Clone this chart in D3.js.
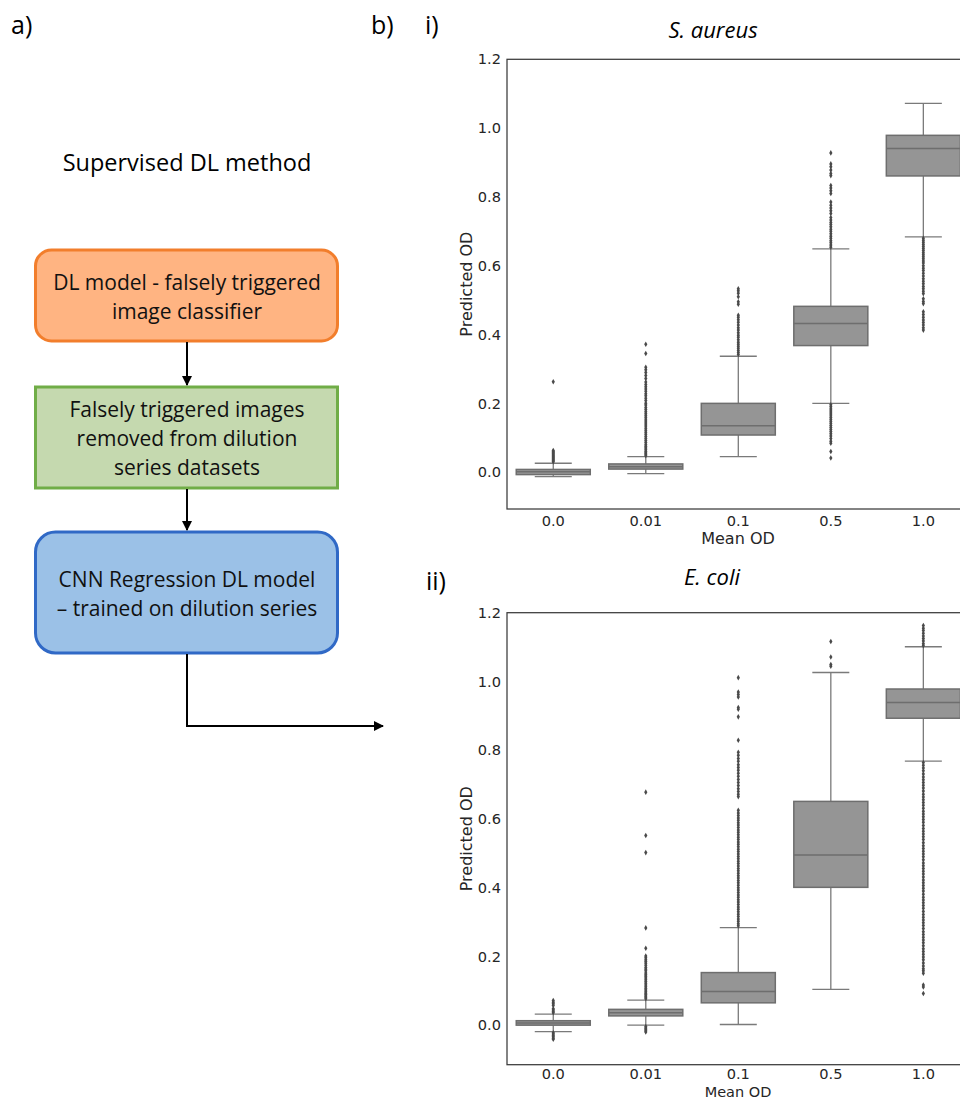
<!DOCTYPE html>
<html>
<head>
<meta charset="utf-8">
<script src="https://cdn.jsdelivr.net/npm/d3@7"></script>
<style>
  body { margin: 0; background: #fff; }
  svg { display: block; }
</style>
</head>
<body>
<svg id="fig" width="960" height="1100"></svg>
<script>
// categories on the x axis (mean OD of the dilution series)
var categories = ['0.0', '0.01', '0.1', '0.5', '1.0'];
var yTicks = [0.0, 0.2, 0.4, 0.6, 0.8, 1.0, 1.2];

// S. aureus box stats: [lower whisker, q1, median, q3, upper whisker]
var aureusStats = [
  [-0.013, -0.007, 0.001, 0.008, 0.026],
  [-0.004, 0.009, 0.016, 0.024, 0.045],
  [0.045, 0.108, 0.135, 0.200, 0.337],
  [0.200, 0.368, 0.432, 0.482, 0.649],
  [0.684, 0.861, 0.941, 0.979, 1.072]
];
var aureusOutliers = [
  [0.263, 0.063, 0.060, 0.057, 0.054, 0.051, 0.048, 0.045, 0.042, 0.039, 0.036, 0.033, 0.030],
  [0.372, 0.345, 0.305, 0.298, 0.290, 0.281, 0.272, 0.262, 0.255, 0.248, 0.242, 0.235, 0.228, 0.222,
   0.215, 0.208, 0.200, 0.195, 0.188, 0.182, 0.176, 0.170, 0.164, 0.158, 0.152, 0.146, 0.140, 0.134,
   0.128, 0.122, 0.116, 0.110, 0.104, 0.098, 0.092, 0.086, 0.080, 0.075, 0.070, 0.065, 0.060, 0.056,
   0.052, 0.048],
  [0.533, 0.527, 0.520, 0.510, 0.495, 0.488, 0.456, 0.450, 0.443, 0.436, 0.428, 0.420, 0.413, 0.405,
   0.398, 0.392, 0.385, 0.378, 0.372, 0.366, 0.360, 0.354, 0.348, 0.342],
  [0.928, 0.896, 0.888, 0.878, 0.868, 0.862, 0.833, 0.826, 0.818, 0.810, 0.785, 0.776, 0.768, 0.760,
   0.752, 0.740, 0.733, 0.726, 0.720, 0.713, 0.706, 0.700, 0.693, 0.686, 0.680, 0.673, 0.667, 0.660,
   0.654, 0.196, 0.190, 0.184, 0.178, 0.172, 0.166, 0.160, 0.154, 0.148, 0.142, 0.136, 0.130, 0.124,
   0.118, 0.112, 0.105, 0.098, 0.090, 0.084, 0.060, 0.041],
  [0.680, 0.674, 0.668, 0.662, 0.656, 0.650, 0.644, 0.638, 0.632, 0.626, 0.620, 0.614, 0.608, 0.600,
   0.593, 0.586, 0.578, 0.570, 0.562, 0.555, 0.548, 0.540, 0.533, 0.526, 0.519, 0.504, 0.496, 0.490,
   0.466, 0.458, 0.450, 0.442, 0.435, 0.428, 0.420, 0.413]
];

// E. coli box stats
var coliStats = [
  [-0.019, 0.000, 0.006, 0.013, 0.032],
  [0.000, 0.027, 0.036, 0.046, 0.073],
  [0.002, 0.065, 0.098, 0.153, 0.284],
  [0.104, 0.401, 0.495, 0.651, 1.026],
  [0.768, 0.893, 0.939, 0.978, 1.101]
];
var coliOutliers = [
  [0.072, 0.067, 0.062, 0.057, 0.048, 0.044, 0.040, 0.036, -0.022, -0.026, -0.030, -0.034, -0.038, -0.041],
  [0.678, 0.552, 0.502, 0.283, 0.224, 0.201, 0.196, 0.190, 0.185, 0.180, 0.174, 0.168, 0.163, 0.158,
   0.152, 0.147, 0.142, 0.137, 0.132, 0.127, 0.122, 0.117, 0.112, 0.107, 0.102, 0.097, 0.093, 0.089,
   0.085, 0.081, 0.077, -0.004, -0.008, -0.012, -0.016, -0.020],
  [1.011, 0.969, 0.962, 0.955, 0.924, 0.919, 0.897, 0.829, 0.794, 0.785, 0.776, 0.768, 0.758, 0.750,
   0.742, 0.733, 0.724, 0.715, 0.706, 0.697, 0.688, 0.680, 0.672, 0.665, 0.625, 0.617, 0.610, 0.603,
   0.596, 0.589, 0.582, 0.575, 0.568, 0.561, 0.554, 0.547, 0.540, 0.533, 0.526, 0.519, 0.512, 0.505,
   0.498, 0.491, 0.484, 0.477, 0.470, 0.463, 0.456, 0.449, 0.442, 0.435, 0.428, 0.421, 0.414, 0.407,
   0.400, 0.393, 0.386, 0.379, 0.372, 0.365, 0.358, 0.351, 0.344, 0.337, 0.330, 0.323, 0.316, 0.309,
   0.302, 0.295, 0.289],
  [1.116, 1.071, 1.049, 1.044],
  [1.163, 1.155, 1.148, 1.140, 1.132, 1.125, 1.118, 1.110, 1.104,
   0.764, 0.756, 0.748, 0.740, 0.731, 0.722, 0.714, 0.706, 0.698, 0.690, 0.681, 0.672, 0.664, 0.656,
   0.648, 0.640, 0.631, 0.622, 0.614, 0.606, 0.598, 0.590, 0.581, 0.572, 0.564, 0.556, 0.548, 0.540,
   0.531, 0.522, 0.514, 0.506, 0.498, 0.490, 0.481, 0.472, 0.464, 0.456, 0.448, 0.440, 0.431, 0.422,
   0.414, 0.406, 0.398, 0.390, 0.381, 0.372, 0.364, 0.356, 0.348, 0.340, 0.331, 0.322, 0.314, 0.306,
   0.298, 0.290, 0.281, 0.272, 0.264, 0.256, 0.248, 0.240, 0.231, 0.222, 0.214, 0.206, 0.198, 0.190,
   0.181, 0.172, 0.164, 0.158, 0.151, 0.117, 0.111, 0.092]
];

// flowchart text
var heading = 'Supervised DL method';
var stepLines = [
  ['DL model - falsely triggered', 'image classifier'],
  ['Falsely triggered images', 'removed from dilution', 'series datasets'],
  ['CNN Regression DL model', '\u2013 trained on dilution series']
];

var svg = d3.select('#fig');
var uiFont = "'Open Sans', sans-serif";
var plotFont = "'DejaVu Sans', sans-serif";

// panel letters
svg.append('g')
  .style('font-family', uiFont).style('font-size', '25px').attr('fill', '#000')
  .selectAll('text')
  .data([['a)', 11, 34], ['b)', 371, 34], ['i)', 425, 34], ['ii)', 426, 590]])
  .enter().append('text')
  .attr('x', d => d[1]).attr('y', d => d[2]).text(d => d[0]);

// ---- flowchart (panel a) ----
var defs = svg.append('defs');
defs.append('marker')
  .attr('id', 'arrow').attr('viewBox', '0 0 10 10')
  .attr('refX', 9).attr('refY', 5)
  .attr('markerWidth', 5).attr('markerHeight', 5)
  .attr('orient', 'auto')
  .append('path').attr('d', 'M0,0 L10,5 L0,10 z').attr('fill', '#000');

var flow = svg.append('g').style('font-family', uiFont);

flow.append('text')
  .attr('x', 187).attr('y', 171).attr('text-anchor', 'middle')
  .style('font-size', '23.5px').text(heading);

var boxes = [
  { y: 250, h: 91, rx: 16, fill: '#FFB482', stroke: '#F27E2C', lineY: [290, 319] },
  { y: 387, h: 101, rx: 0, fill: '#C5D9AF', stroke: '#70AD47', lineY: [417, 446, 475] },
  { y: 532, h: 121, rx: 20, fill: '#9BC1E7', stroke: '#3069C6', lineY: [587, 616] }
];

boxes.forEach(function (b, i) {
  flow.append('rect')
    .attr('x', 35.5).attr('y', b.y).attr('width', 302).attr('height', b.h)
    .attr('rx', b.rx).attr('ry', b.rx)
    .attr('fill', b.fill).attr('stroke', b.stroke).attr('stroke-width', 3);
  flow.selectAll(null)
    .data(stepLines[i])
    .enter().append('text')
    .attr('x', 187).attr('y', (d, j) => b.lineY[j])
    .attr('text-anchor', 'middle').style('font-size', '21px').attr('fill', '#111')
    .text(d => d);
});

var arrows = [
  'M187,342 L187,385',
  'M187,489 L187,530',
  'M187,654 L187,726 L383,726'
];
flow.selectAll('path.arrow')
  .data(arrows)
  .enter().append('path')
  .attr('class', 'arrow')
  .attr('d', d => d)
  .attr('fill', 'none').attr('stroke', '#000').attr('stroke-width', 2)
  .attr('marker-end', 'url(#arrow)');

// ---- box plots (panel b) ----
function boxPanel(opts) {
  var x = d3.scaleBand()
    .domain(categories)
    .range([507, 969.6])
    .paddingInner(0.2).paddingOuter(0.1);
  var y = d3.scaleLinear().domain(opts.ydomain).range([opts.bottom, opts.top]);
  var g = svg.append('g');

  // title
  g.append('text')
    .attr('x', opts.titleX).attr('y', opts.titleY).attr('text-anchor', 'middle')
    .style('font-family', uiFont).style('font-style', 'italic').style('font-size', '22px')
    .text(opts.title);

  var bw = x.bandwidth();
  var data = categories.map((c, i) => ({ cat: c, s: opts.stats[i], out: opts.outliers[i] }));

  var box = g.selectAll('g.box').data(data).enter().append('g').attr('class', 'box');
  var cx = d => x(d.cat) + bw / 2;

  // whiskers
  box.append('line')
    .attr('x1', cx).attr('x2', cx)
    .attr('y1', d => y(d.s[0])).attr('y2', d => y(d.s[1]))
    .attr('stroke', '#7a7a7a').attr('stroke-width', 1.3);
  box.append('line')
    .attr('x1', cx).attr('x2', cx)
    .attr('y1', d => y(d.s[3])).attr('y2', d => y(d.s[4]))
    .attr('stroke', '#7a7a7a').attr('stroke-width', 1.3);
  // caps
  [0, 4].forEach(function (k) {
    box.append('line')
      .attr('x1', d => cx(d) - bw / 4).attr('x2', d => cx(d) + bw / 4)
      .attr('y1', d => y(d.s[k])).attr('y2', d => y(d.s[k]))
      .attr('stroke', '#7a7a7a').attr('stroke-width', 1.3);
  });
  // box
  box.append('rect')
    .attr('x', d => x(d.cat)).attr('width', bw)
    .attr('y', d => y(d.s[3]))
    .attr('height', d => Math.max(1, y(d.s[1]) - y(d.s[3])))
    .attr('fill', '#959595').attr('stroke', '#6e6e6e').attr('stroke-width', 1.5);
  // median
  box.append('line')
    .attr('x1', d => x(d.cat)).attr('x2', d => x(d.cat) + bw)
    .attr('y1', d => y(d.s[2])).attr('y2', d => y(d.s[2]))
    .attr('stroke', '#6e6e6e').attr('stroke-width', 1.5);
  // outliers
  var sym = d3.symbol().type(d3.symbolDiamond).size(9);
  box.selectAll('path.flier')
    .data(d => d.out.map(v => ({ cat: d.cat, v: v })))
    .enter().append('path')
    .attr('class', 'flier')
    .attr('d', sym)
    .attr('transform', d => 'translate(' + cx(d) + ',' + y(d.v) + ')')
    .attr('fill', '#4a4a4a');

  // frame (seaborn white style: all four spines)
  g.append('rect')
    .attr('x', 507).attr('y', opts.top)
    .attr('width', 969.6 - 507).attr('height', opts.bottom - opts.top)
    .attr('fill', 'none').attr('stroke', '#3a3a3a').attr('stroke-width', 1.25);

  // axes
  var yAxis = g.append('g')
    .attr('transform', 'translate(507,0)')
    .call(d3.axisLeft(y).tickValues(yTicks).tickFormat(d3.format('.1f')).tickSize(0).tickPadding(6));
  var xAxis = g.append('g')
    .attr('transform', 'translate(0,' + opts.bottom + ')')
    .call(d3.axisBottom(x).tickSize(0).tickPadding(opts.xtickPad));
  [yAxis, xAxis].forEach(function (a) {
    a.select('.domain').remove();
    a.selectAll('text').style('font-family', plotFont).style('font-size', '14.6px').attr('fill', '#262626');
  });

  g.append('text')
    .attr('x', 738).attr('y', opts.bottom + opts.xlabelGap).attr('text-anchor', 'middle')
    .style('font-family', plotFont).style('font-size', opts.xlabelSize).attr('fill', '#262626')
    .text('Mean OD');
  g.append('text')
    .attr('transform', 'translate(472,' + (opts.top + opts.bottom) / 2 + ') rotate(-90)')
    .attr('text-anchor', 'middle')
    .style('font-family', plotFont).style('font-size', '16px').attr('fill', '#262626')
    .text('Predicted OD');
}

boxPanel({
  title: 'S. aureus', titleX: 713, titleY: 38,
  top: 59.3, bottom: 509, ydomain: [-0.107, 1.2],
  xtickPad: 7, xlabelGap: 35, xlabelSize: '16px',
  stats: aureusStats, outliers: aureusOutliers
});
boxPanel({
  title: 'E. coli', titleX: 712, titleY: 585,
  top: 612.7, bottom: 1064.7, ydomain: [-0.115, 1.2],
  xtickPad: 4, xlabelGap: 31.8, xlabelSize: '14.5px',
  stats: coliStats, outliers: coliOutliers
});
</script>
</body>
</html>
